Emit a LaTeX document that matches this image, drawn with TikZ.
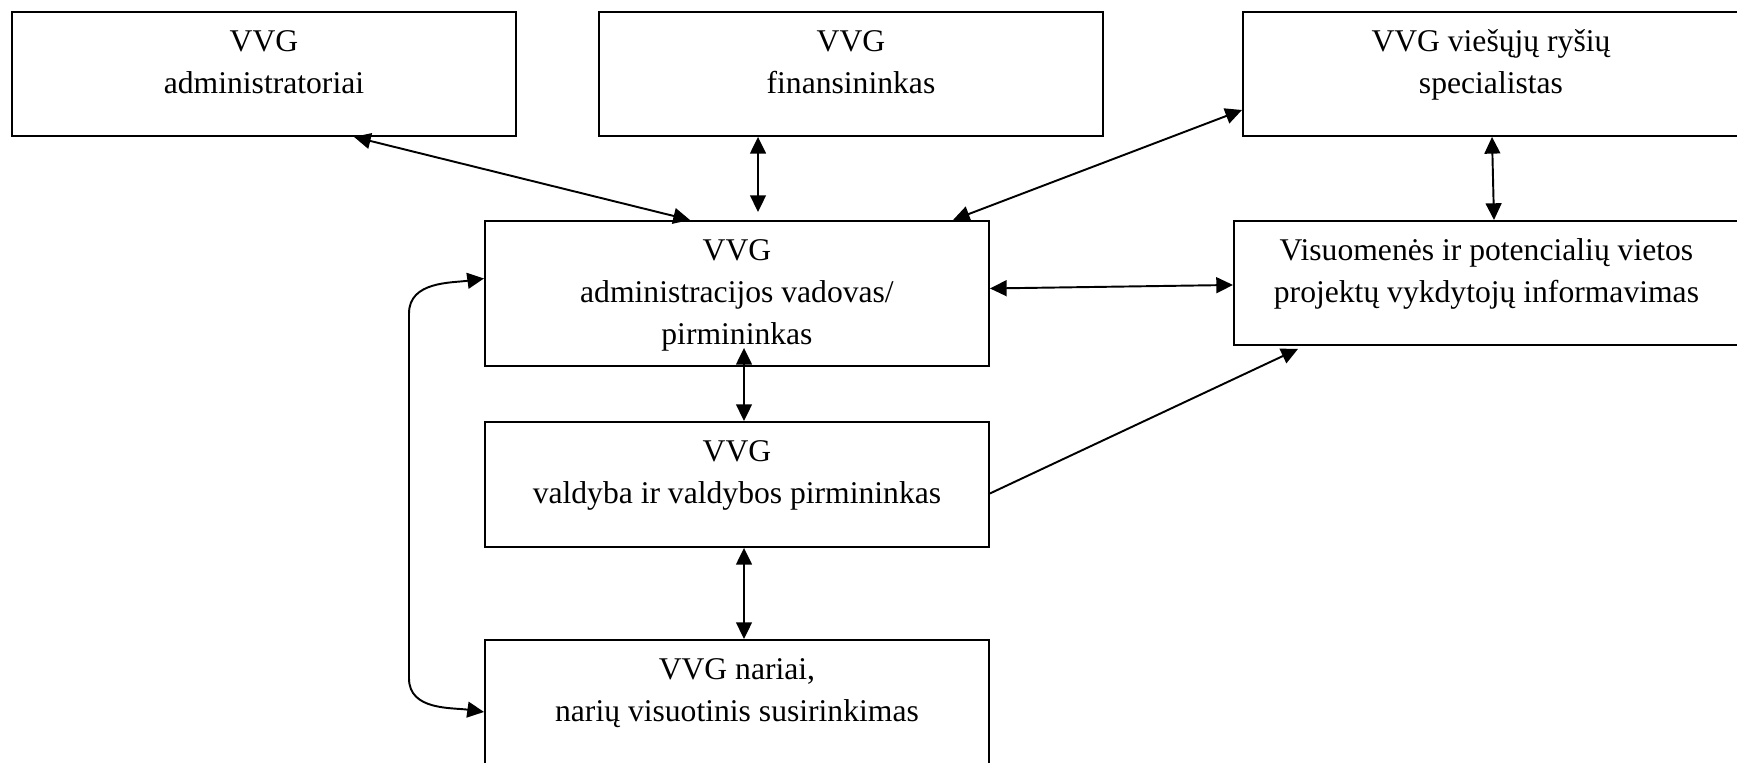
\documentclass[tikz,border=0pt]{standalone}
\usepackage{fontspec}
\setmainfont{Liberation Serif}
\usetikzlibrary{arrows.meta}

\newlength\px
\setlength\px{0.02cm}
% box text: width, height, lines
\newcommand{\boxtext}[3]{\parbox[c][#2\px][t]{#1\px}{\fontsize{18}{24}\selectfont\centering
  \vspace*{10\px}\strut #3\par}}

\begin{document}
\begin{tikzpicture}[x=0.02cm, y=-0.02cm,
    box/.style={draw, line width=1.1pt, inner sep=0pt, anchor=north west},
    link/.style={line width=1.1pt, {Triangle[length=9.5pt,width=9pt]}-{Triangle[length=9.5pt,width=9pt]}},
    tolink/.style={line width=1.1pt, -{Triangle[length=9.5pt,width=9pt]}}]
   \useasboundingbox (0,0) rectangle (1737,763);
   % top row
   \node[box] (adm) at (11,11) {\boxtext{504}{124}{VVG\\administratoriai}};
   \node[box] (fin) at (598,11) {\boxtext{504}{124}{VVG\\finansininkas}};
   \node[box] (pr) at (1242,11) {\boxtext{496}{124}{VVG viešųjų ryšių\\specialistas}};
   % middle
   \node[box] (vad) at (484,220) {\boxtext{504}{145}{VVG\\administracijos vadovas/\\pirmininkas}};
   \node[box] (inf) at (1233,220) {\boxtext{505}{124}{Visuomenės ir potencialių vietos\\projektų vykdytojų informavimas}};
   \node[box] (val) at (484,421) {\boxtext{504}{125}{VVG\\valdyba ir valdybos pirmininkas}};
   \node[box] (nar) at (484,639) {\boxtext{504}{126}{VVG nariai,\\narių visuotinis susirinkimas}};
   % connectors
   \draw[link] ([xshift=343\px]adm.south west) -- ([xshift=206\px]vad.north west);
   \draw[link] ([xshift=160\px]fin.south west) -- ([xshift=274\px,yshift=8\px]vad.north west);
   \draw[link] ([yshift=-99\px]pr.north west) -- ([xshift=469\px]vad.north west);
   \draw[link] ([xshift=250\px]pr.south west) -- ([xshift=261\px]inf.north west);
   \draw[link] ([yshift=5\px]vad.east) -- ([yshift=-2\px]inf.west);
   \draw[link] ([xshift=260\px]val.north west) -- ([xshift=260\px,yshift=19\px]vad.south west);
   \draw[link] ([xshift=260\px]val.south west) -- ([xshift=260\px]nar.north west);
   \draw[tolink] ([yshift=-9\px]val.east) -- ([xshift=65\px,yshift=-3\px]inf.south west);
   \draw[link] ([yshift=15\px]vad.west) to[out=188,in=90] ++(-75,35) -- ++(0,365)
     to[out=-90,in=172] ([yshift=-9\px]nar.west);
\end{tikzpicture}
\end{document}
